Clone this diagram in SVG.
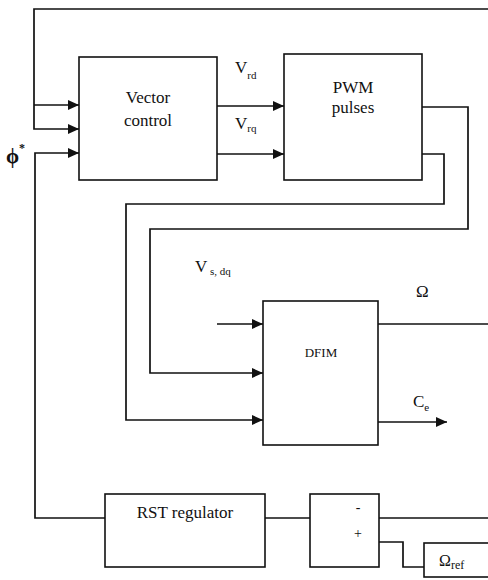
<svg xmlns="http://www.w3.org/2000/svg" width="488" height="580" viewBox="0 0 488 580">
<style>
.box{fill:#fff;stroke:#111;stroke-width:1.6}
.ln{fill:none;stroke:#111;stroke-width:1.7}
text{font-family:"Liberation Serif","DejaVu Serif",serif;fill:#111}
.c{text-anchor:middle}
</style>
<defs>
<marker id="ah" markerUnits="userSpaceOnUse" markerWidth="12" markerHeight="10" refX="11" refY="5" orient="auto">
<path d="M0,0 L11,5 L0,10 z" fill="#111"/>
</marker>
</defs>
<rect width="488" height="580" fill="#fff"/>
<g id="connectors">
<path class="ln" d="M488,9 H34 V129 H79" marker-end="url(#ah)"/>
<path class="ln" d="M34,105 H79" marker-end="url(#ah)"/>
<path class="ln" d="M105,518 H35 V153 H79" marker-end="url(#ah)"/>
<path class="ln" d="M217,106 H284" marker-end="url(#ah)"/>
<path class="ln" d="M217,154 H284" marker-end="url(#ah)"/>
<path class="ln" d="M422,107 H468 V229 H150 V373 H263" marker-end="url(#ah)"/>
<path class="ln" d="M422,154 H444 V204 H126 V420 H263" marker-end="url(#ah)"/>
<path class="ln" d="M217,324 H263" marker-end="url(#ah)"/>
<path class="ln" d="M378,324 H488"/>
<path class="ln" d="M378,422 H447" marker-end="url(#ah)"/>
<path class="ln" d="M265,518 H310"/>
<path class="ln" d="M379,518 H488"/>
<path class="ln" d="M424,567 H403 V542 H379"/>
</g>
<g id="vector-control">
<rect class="box" x="79" y="57" width="138" height="123"/>
<text class="c" x="148" y="103" font-size="17" font-family="Liberation Serif, serif">Vector</text>
<text class="c" x="148" y="126" font-size="17" font-family="Liberation Serif, serif">control</text>
</g>
<g id="pwm">
<rect class="box" x="284" y="54" width="138" height="126"/>
<text class="c" x="353" y="93" font-size="17" font-family="Liberation Serif, serif">PWM</text>
<text class="c" x="353" y="113" font-size="17" font-family="Liberation Serif, serif">pulses</text>
</g>
<g id="dfim">
<rect class="box" x="263" y="301" width="115" height="144"/>
<text class="c" x="321" y="357" font-size="13" font-family="Liberation Serif, serif">DFIM</text>
</g>
<g id="rst">
<rect class="box" x="105" y="494" width="160" height="73"/>
<text class="c" x="185" y="518" font-size="17" font-family="Liberation Serif, serif">RST regulator</text>
</g>
<g id="sum">
<rect class="box" x="310" y="494" width="69" height="73"/>
<text class="c" x="358" y="512" font-size="14" font-family="Liberation Serif, serif">-</text>
<text class="c" x="358" y="538" font-size="14" font-family="Liberation Serif, serif">+</text>
</g>
<g id="omega-ref">
<rect class="box" x="424" y="543" width="70" height="34"/>
<text x="439" y="566" font-size="16" font-family="Liberation Serif, serif">Ω<tspan font-size="12" dy="3">ref</tspan></text>
</g>
<g id="labels" font-family="Liberation Serif, serif">
<text x="235" y="73" font-size="17">V<tspan font-size="11" dy="6">rd</tspan></text>
<text x="235" y="129" font-size="17">V<tspan font-size="11" dy="3">rq</tspan></text>
<text x="6" y="163" font-size="21" font-weight="bold">ϕ<tspan font-size="12" dy="-11">*</tspan></text>
<text x="195" y="272" font-size="17">V<tspan font-size="11" dy="3"> s, dq</tspan></text>
<text x="416" y="297" font-size="17">Ω</text>
<text x="413" y="407" font-size="17">C<tspan font-size="11" dy="4">e</tspan></text>
</g>
</svg>
